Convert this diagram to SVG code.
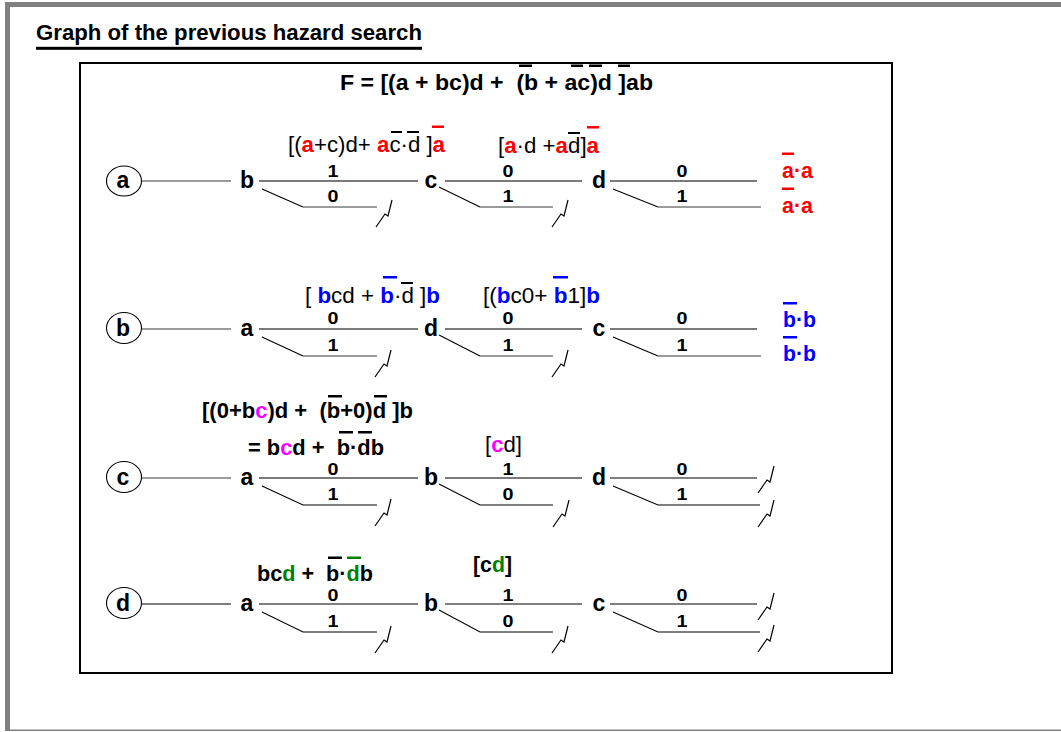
<svg xmlns="http://www.w3.org/2000/svg" xmlns:xlink="http://www.w3.org/1999/xlink" width="1061" height="732" viewBox="0 0 1061 732">
<style>
text{font-family:"Liberation Sans",Arial,sans-serif;fill:#000}
.b{font-weight:bold}
.t22{font-size:22px}
.dg{font-size:17px;font-weight:bold}
.nd{font-size:23px;font-weight:bold;text-anchor:middle}
.pre{white-space:pre}
.R{fill:#ff0000;font-weight:bold}
.B{fill:#0000ff;font-weight:bold}
.M{fill:#ff00ff;font-weight:bold}
.G{fill:#008000;font-weight:bold}
.g2{stroke:#7a7a7a;stroke-width:2;fill:none}
.g1{stroke:#7a7a7a;stroke-width:1.4;fill:none}
.k1{stroke:#000;stroke-width:1.1;fill:none}
.zz{stroke:#000;stroke-width:1.2;fill:none}
.ob{fill:#000}
.obR{fill:#ff0000}
.obB{fill:#0000ff}
.obG{fill:#008000}
.circ{fill:#fff;stroke:#000;stroke-width:1.1}
</style>
<defs>
<path id="zz" d="M0 0 l9 -13 l3 2 l4 -16" class="zz"/>
</defs>
<rect x="0" y="0" width="1061" height="732" fill="#fff"/>
<g id="frame">
<rect x="5" y="2" width="1056" height="5" fill="#808080"/>
<rect x="5" y="2" width="5" height="729" fill="#808080"/>
<rect x="5" y="729.5" width="1056" height="1.5" fill="#808080"/>
<rect x="80" y="63" width="812" height="610" fill="none" stroke="#000" stroke-width="2"/>
</g>
<g id="title">
<text x="36" y="39.5" class="b t22" textLength="386" lengthAdjust="spacingAndGlyphs">Graph of the previous hazard search</text>
<rect x="36" y="46.8" width="386" height="3" fill="#000"/>
</g>
<g id="formula">
<text x="340" y="90" class="b t22 pre" textLength="313" lengthAdjust="spacingAndGlyphs">F = [(a + bc)d +  (b + ac)d ]ab</text>
<rect class="ob" x="519" y="64.5" width="13" height="2.5"/>
<rect class="ob" x="571" y="64.5" width="12" height="2.5"/>
<rect class="ob" x="589" y="64.5" width="13" height="2.5"/>
<rect class="ob" x="618" y="64.5" width="12" height="2.5"/>
</g>
<g id="connectors">
<!-- row a -->
<path class="g1" d="M142 181 H231"/>
<path class="g2" d="M259 181 H418"/>
<path class="k1" d="M262 189 L303 207"/><path class="g1" d="M303 207 H377"/>
<path class="g2" d="M445 181 H582"/>
<path class="k1" d="M439 187 L480 207"/><path class="g1" d="M480 207 H553"/>
<path class="g2" d="M610 181 H757"/>
<path class="k1" d="M613 189 L658 207"/><path class="g1" d="M658 207 H761"/>
<use xlink:href="#zz" x="376" y="227"/>
<use xlink:href="#zz" x="552" y="227"/>
<!-- row b -->
<path class="g1" d="M142 329 H231"/>
<path class="g2" d="M259 329 H418"/>
<path class="k1" d="M262 337 L303 356"/><path class="g1" d="M303 356 H377"/>
<path class="g2" d="M445 329 H582"/>
<path class="k1" d="M439 335 L480 356"/><path class="g1" d="M480 356 H553"/>
<path class="g2" d="M610 329 H757"/>
<path class="k1" d="M613 337 L658 356"/><path class="g1" d="M658 356 H761"/>
<use xlink:href="#zz" x="375" y="377"/>
<use xlink:href="#zz" x="552" y="377"/>
<!-- row c -->
<path class="g1" d="M142 478 H231"/>
<path class="g2" d="M259 478 H418"/>
<path class="k1" d="M262 486 L303 505 H377"/>
<path class="g2" d="M445 478 H582"/>
<path class="k1" d="M439 484 L480 505 H553"/>
<path class="k1" d="M610 478 H757"/>
<path class="k1" d="M613 486 L658 505 H760"/>
<use xlink:href="#zz" x="375" y="526"/>
<use xlink:href="#zz" x="553" y="527"/>
<use xlink:href="#zz" x="758" y="493"/>
<use xlink:href="#zz" x="758" y="527"/>
<!-- row d -->
<path class="k1" d="M142 604 H231"/>
<path class="k1" d="M259 604 H418"/>
<path class="k1" d="M262 612 L303 632 H377"/>
<path class="k1" d="M445 604 H582"/>
<path class="k1" d="M439 610 L480 632 H553"/>
<path class="k1" d="M610 604 H757"/>
<path class="k1" d="M613 612 L658 632 H760"/>
<use xlink:href="#zz" x="375" y="653"/>
<use xlink:href="#zz" x="552" y="653"/>
<use xlink:href="#zz" x="758" y="620"/>
<use xlink:href="#zz" x="758" y="652"/>
</g>
<g id="row-a">
<g id="node-a-root"><ellipse class="circ" cx="124" cy="181" rx="17.5" ry="15"/><text x="123" y="188" class="nd">a</text></g>
<g id="node-a-b"><text x="247" y="188" class="nd">b</text></g>
<g id="node-a-c"><text x="431" y="188" class="nd">c</text></g>
<g id="node-a-d"><text x="599" y="188" class="nd">d</text></g>
<text x="327.5" y="177" class="dg" textLength="11" lengthAdjust="spacingAndGlyphs">1</text><text x="327.5" y="202" class="dg" textLength="11" lengthAdjust="spacingAndGlyphs">0</text>
<text x="502.5" y="177" class="dg" textLength="11" lengthAdjust="spacingAndGlyphs">0</text><text x="502.5" y="202" class="dg" textLength="11" lengthAdjust="spacingAndGlyphs">1</text>
<text x="676.5" y="177" class="dg" textLength="11" lengthAdjust="spacingAndGlyphs">0</text><text x="676.5" y="202" class="dg" textLength="11" lengthAdjust="spacingAndGlyphs">1</text>
<text x="288" y="151.5" class="t22 pre" textLength="157" lengthAdjust="spacingAndGlyphs">[(<tspan class="R">a</tspan>+c)d+ <tspan class="R">a</tspan>c·d ]<tspan class="R">a</tspan></text>
<rect class="ob" x="391" y="131" width="11" height="2"/>
<rect class="ob" x="407" y="131" width="12" height="2"/>
<rect class="obR" x="432" y="125.5" width="12" height="2.5"/>
<text x="498" y="152.5" class="t22 pre" textLength="101" lengthAdjust="spacingAndGlyphs">[<tspan class="R">a</tspan>·d +<tspan class="R">a</tspan>d]<tspan class="R">a</tspan></text>
<rect class="ob" x="568" y="132" width="12" height="2"/>
<rect class="obR" x="587" y="126" width="12" height="2.5"/>
<text x="782" y="178" class="t22 R" textLength="31" lengthAdjust="spacingAndGlyphs">a·a</text>
<rect class="obR" x="782" y="152.5" width="12" height="2.5"/>
<text x="782" y="213" class="t22 R" textLength="31" lengthAdjust="spacingAndGlyphs">a·a</text>
<rect class="obR" x="782" y="187.5" width="12" height="2.5"/>
</g>
<g id="row-b">
<g id="node-b-root"><ellipse class="circ" cx="124" cy="328" rx="17.5" ry="15.5"/><text x="123" y="336" class="nd">b</text></g>
<g id="node-b-a"><text x="247" y="336" class="nd">a</text></g>
<g id="node-b-d"><text x="431" y="336" class="nd">d</text></g>
<g id="node-b-c"><text x="599" y="336" class="nd">c</text></g>
<text x="327.5" y="324" class="dg" textLength="11" lengthAdjust="spacingAndGlyphs">0</text><text x="327.5" y="351" class="dg" textLength="11" lengthAdjust="spacingAndGlyphs">1</text>
<text x="502.5" y="324" class="dg" textLength="11" lengthAdjust="spacingAndGlyphs">0</text><text x="502.5" y="351" class="dg" textLength="11" lengthAdjust="spacingAndGlyphs">1</text>
<text x="676.5" y="324" class="dg" textLength="11" lengthAdjust="spacingAndGlyphs">0</text><text x="676.5" y="351" class="dg" textLength="11" lengthAdjust="spacingAndGlyphs">1</text>
<text x="305" y="303" class="t22 pre" textLength="135" lengthAdjust="spacingAndGlyphs">[ <tspan class="B">b</tspan>cd + <tspan class="B">b</tspan>·d ]<tspan class="B">b</tspan></text>
<rect class="obB" x="383" y="276" width="14" height="2.5"/>
<rect class="ob" x="401" y="282" width="12" height="2"/>
<text x="483" y="303" class="t22 pre" textLength="117" lengthAdjust="spacingAndGlyphs">[(<tspan class="B">b</tspan>c0+ <tspan class="B">b</tspan>1]<tspan class="B">b</tspan></text>
<rect class="obB" x="553" y="276" width="15" height="2.5"/>
<text x="783" y="327" class="t22 B" textLength="33" lengthAdjust="spacingAndGlyphs">b·b</text>
<rect class="obB" x="783" y="302" width="14" height="2.5"/>
<text x="783" y="361" class="t22 B" textLength="33" lengthAdjust="spacingAndGlyphs">b·b</text>
<rect class="obB" x="783" y="336" width="14" height="2.5"/>
</g>
<g id="row-c">
<g id="node-c-root"><ellipse class="circ" cx="124" cy="477" rx="17.5" ry="15.5"/><text x="123" y="485" class="nd">c</text></g>
<g id="node-c-a"><text x="247" y="485" class="nd">a</text></g>
<g id="node-c-b"><text x="431" y="485" class="nd">b</text></g>
<g id="node-c-d"><text x="599" y="485" class="nd">d</text></g>
<text x="327.5" y="475" class="dg" textLength="11" lengthAdjust="spacingAndGlyphs">0</text><text x="327.5" y="500" class="dg" textLength="11" lengthAdjust="spacingAndGlyphs">1</text>
<text x="502.5" y="475" class="dg" textLength="11" lengthAdjust="spacingAndGlyphs">1</text><text x="502.5" y="500" class="dg" textLength="11" lengthAdjust="spacingAndGlyphs">0</text>
<text x="676.5" y="475" class="dg" textLength="11" lengthAdjust="spacingAndGlyphs">0</text><text x="676.5" y="500" class="dg" textLength="11" lengthAdjust="spacingAndGlyphs">1</text>
<text x="202" y="418" class="t22 b pre" textLength="211" lengthAdjust="spacingAndGlyphs">[(0+b<tspan class="M">c</tspan>)d +  (b+0)d ]b</text>
<rect class="ob" x="328" y="395" width="14" height="2.5"/>
<rect class="ob" x="374" y="395" width="13" height="2.5"/>
<text x="248" y="455" class="t22 b pre" textLength="136" lengthAdjust="spacingAndGlyphs">= b<tspan class="M">c</tspan>d +  b·db</text>
<rect class="ob" x="339" y="431" width="14" height="2.5"/>
<rect class="ob" x="358" y="431" width="14" height="2.5"/>
<text x="485" y="452" class="t22" textLength="37" lengthAdjust="spacingAndGlyphs">[<tspan class="M">c</tspan>d]</text>
</g>
<g id="row-d">
<g id="node-d-root"><ellipse class="circ" cx="124" cy="603" rx="17.5" ry="15.5"/><text x="123" y="611" class="nd">d</text></g>
<g id="node-d-a"><text x="247" y="611" class="nd">a</text></g>
<g id="node-d-b"><text x="431" y="611" class="nd">b</text></g>
<g id="node-d-c"><text x="599" y="611" class="nd">c</text></g>
<text x="327.5" y="601" class="dg" textLength="11" lengthAdjust="spacingAndGlyphs">0</text><text x="327.5" y="627" class="dg" textLength="11" lengthAdjust="spacingAndGlyphs">1</text>
<text x="502.5" y="601" class="dg" textLength="11" lengthAdjust="spacingAndGlyphs">1</text><text x="502.5" y="627" class="dg" textLength="11" lengthAdjust="spacingAndGlyphs">0</text>
<text x="676.5" y="601" class="dg" textLength="11" lengthAdjust="spacingAndGlyphs">0</text><text x="676.5" y="627" class="dg" textLength="11" lengthAdjust="spacingAndGlyphs">1</text>
<text x="257" y="581" class="t22 b pre" textLength="116" lengthAdjust="spacingAndGlyphs">bc<tspan class="G">d</tspan> +  b·<tspan class="G">d</tspan>b</text>
<rect class="ob" x="328" y="556.5" width="14" height="2.5"/>
<rect class="obG" x="347" y="556.5" width="14" height="2.5"/>
<text x="473" y="572" class="t22 b" textLength="39" lengthAdjust="spacingAndGlyphs">[c<tspan class="G">d</tspan>]</text>
</g>
</svg>
